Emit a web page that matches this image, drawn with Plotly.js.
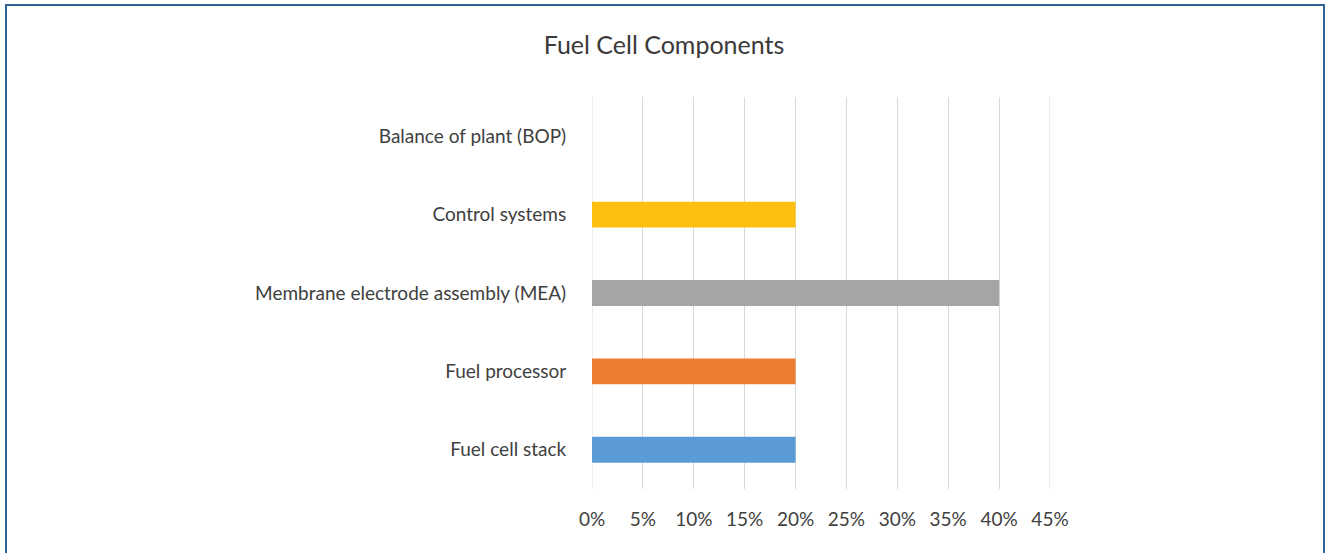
<!DOCTYPE html>
<html>
<head>
<meta charset="utf-8">
<script src="https://cdn.plot.ly/plotly-3.0.1.min.js"></script>
<style>
  html, body { margin: 0; padding: 0; background: #ffffff; }
  #wrap { position: relative; width: 1328px; height: 553px; overflow: hidden; }
  #chart { position: absolute; left: 0; top: 0; width: 1328px; height: 553px; }
  #frame { position: absolute; left: 5px; top: 4px; width: 1320px; height: 600px;
           border: 2px solid #2c6496; pointer-events: none; box-sizing: border-box; }
</style>
</head>
<body>
<div id="wrap">
  <div id="chart"></div>
  <div id="frame"></div>
</div>
<script>
const categories = [
  "Fuel cell stack",
  "Fuel processor",
  "Membrane electrode assembly (MEA)",
  "Control systems",
  "Balance of plant (BOP)"
];
const shares = [0.20, 0.20, 0.40, 0.20, 0];
const barColors = ["#5B9BD5", "#ED7D31", "#A5A5A5", "#FDC010", "#4472C4"];
const tickValues = [0, 0.05, 0.10, 0.15, 0.20, 0.25, 0.30, 0.35, 0.40, 0.45];
const tickLabels = ["0%", "5%", "10%", "15%", "20%", "25%", "30%", "35%", "40%", "45%"];
const axisMin = 0;
const axisMax = 0.45;

const fontFamily = "Lato, 'Open Sans', sans-serif";
const gridColor = "#D9D9D9";

const edgeLines = [axisMin, axisMax].map(v => ({
  type: "line", xref: "x", yref: "paper",
  x0: v, x1: v, y0: 0, y1: 1,
  line: { color: gridColor, width: 1 },
  layer: "below"
}));

Plotly.newPlot("chart", [{
  type: "bar",
  orientation: "h",
  y: categories,
  x: shares,
  marker: { color: barColors },
  hoverinfo: "none"
}], {
  width: 1328,
  height: 553,
  paper_bgcolor: "#ffffff",
  plot_bgcolor: "#ffffff",
  margin: { l: 592, r: 278, t: 97, b: 64, pad: 0 },
  bargap: 0.67,
  showlegend: false,
  shapes: edgeLines,
  title: {
    text: "Fuel Cell Components",
    font: { family: fontFamily, size: 25, color: "#3a3a3a" },
    x: 0.5, xref: "container", xanchor: "center",
    y: 1 - 45 / 553, yref: "container", yanchor: "middle"
  },
  xaxis: {
    range: [axisMin, axisMax],
    tickvals: tickValues,
    ticktext: tickLabels,
    showgrid: true,
    gridcolor: gridColor,
    gridwidth: 1,
    zeroline: false,
    showline: false,
    ticks: "outside",
    ticklen: 13,
    tickcolor: "rgba(0,0,0,0)",
    tickfont: { family: fontFamily, size: 19, color: "#404040" },
    fixedrange: true
  },
  yaxis: {
    type: "category",
    categoryorder: "array",
    categoryarray: categories,
    showgrid: false,
    zeroline: false,
    showline: false,
    ticks: "outside",
    ticklen: 21,
    tickcolor: "rgba(0,0,0,0)",
    tickfont: { family: fontFamily, size: 19, color: "#404040" },
    fixedrange: true
  }
}, { staticPlot: true, displayModeBar: false });
</script>
</body>
</html>
